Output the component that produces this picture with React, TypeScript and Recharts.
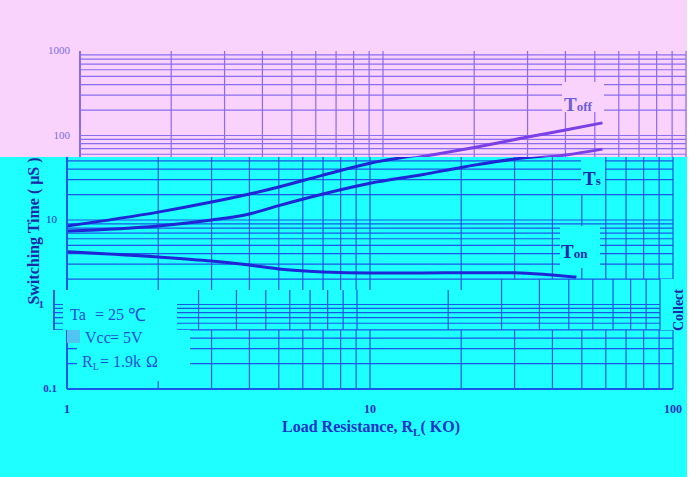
import React from "react";
import { LineChart, Line, XAxis, YAxis, CartesianGrid } from "recharts";

// ---- data ----
const rlToff = [1, 2, 3, 4, 5, 7, 10, 15, 20, 30, 40, 53];
const toffValues = [8.5, 12.4, 16.3, 20.3, 24.6, 34, 47, 60, 72, 96, 116, 141];
const rlTs = [1, 2, 3, 4, 5, 7, 10, 15, 20, 30, 40, 53];
const tsValues = [7.4, 8.5, 10, 11.8, 14.8, 20.3, 27.2, 34.6, 41.9, 52.7, 58.8, 69];
const rlTon = [1, 2, 3, 4, 5, 7, 10, 15, 20, 30, 40, 48];
const tonValues = [4.2, 3.65, 3.27, 2.93, 2.63, 2.43, 2.36, 2.36, 2.38, 2.38, 2.23, 2.11];

const xLabelTicks = [1, 10, 100];
const yLabelTicks = [0.1, 1, 10, 100, 1000];
const mantissas = [1, 2, 3, 4, 5, 6, 7, 8, 9];

const xDecades = [1, 10];
const yDecades = [0.1, 1, 10, 100];

const round = (v: number) => Math.round(v * 1000) / 1000;
const xGrid = [...xDecades.flatMap((d) => mantissas.map((m) => round(d * m))), 100];
const yGrid = yDecades.flatMap((d) => mantissas.map((m) => round(d * m)));
const yTicksAll = [...yGrid, 1000];

const toffData = rlToff.map((x, i) => ({ x, y: toffValues[i] }));
const tsData = rlTs.map((x, i) => ({ x, y: tsValues[i] }));
const tonData = rlTon.map((x, i) => ({ x, y: tonValues[i] }));

// ---- style ----
const PINK = "#f9d3fb";
const CYAN = "#1effff";
const SERIF = '"Liberation Serif", "Times New Roman", serif';

type Strip = {
  x0: number; x1: number; y0: number; y1: number; dx: number;
  bg: string; grid: string; curve: string; text: string;
};

const pinkStyle = { bg: PINK, grid: "#8a6cf0", curve: "#7b3fe6", text: "#7a6ee0" };
const cyanStyle = { bg: CYAN, grid: "#1c56e4", curve: "#1e26d6", text: "#1a30c0" };

const STRIPS: Strip[] = [
  { x0: 0, x1: 687, y0: 0, y1: 157, dx: 13, ...pinkStyle },
  { x0: 0, x1: 478, y0: 157, y1: 290, dx: 0, ...cyanStyle },
  { x0: 478, x1: 687, y0: 157, y1: 279, dx: 0, ...cyanStyle },
  { x0: 0, x1: 478, y0: 290, y1: 330, dx: -13, ...cyanStyle },
  { x0: 478, x1: 687, y0: 279, y1: 330, dx: -13, ...cyanStyle },
  { x0: 0, x1: 687, y0: 330, y1: 477, dx: 0, ...cyanStyle },
];

const inStrip = (s: Strip, px: number, py: number) =>
  px + s.dx >= s.x0 && px + s.dx < s.x1 && py >= s.y0 && py < s.y1;

function ChartInstance({ s }: { s: Strip }) {
  const yTick = (props: any) => {
    const { y, payload } = props;
    const v = payload.value;
    if (!yLabelTicks.includes(v) || !inStrip(s, 50, y)) return <g />;
    return (
      <text x={57} y={y - 1} textAnchor="end" dominantBaseline="central"
        fontFamily={SERIF} fontSize={11} fontWeight={v <= 1 ? "bold" : "normal"} fill={s.text}>
        {String(v)}
      </text>
    );
  };
  const xTick = (props: any) => {
    const { x, payload } = props;
    const v = payload.value;
    if (!xLabelTicks.includes(v) || !inStrip(s, x, 409)) return <g />;
    return (
      <text x={x} y={409} textAnchor="middle" dominantBaseline="central"
        fontFamily={SERIF} fontSize={12} fontWeight="bold" fill={s.text}>
        {String(v)}
      </text>
    );
  };
  return (
    <LineChart width={696} height={477} margin={{ top: 51, right: 23, bottom: 58, left: 7 }}>
      <CartesianGrid stroke={s.grid} strokeWidth={1.2}
        horizontalValues={yGrid} verticalValues={xGrid} />
      <XAxis type="number" dataKey="x" scale="log" domain={[1, 100]} ticks={xGrid}
        interval={0} allowDataOverflow height={30} tickLine={false}
        axisLine={{ stroke: s.grid, strokeWidth: 2 }} tick={xTick} />
      <YAxis type="number" scale="log" domain={[0.1, 1000]} ticks={yTicksAll}
        interval={0} allowDataOverflow width={60} tickLine={false}
        axisLine={{ stroke: s.grid, strokeWidth: 2 }} tick={yTick} />
      <Line data={toffData} dataKey="y" type="monotone" stroke={s.curve} strokeWidth={3}
        dot={false} isAnimationActive={false} />
      <Line data={tsData} dataKey="y" type="monotone" stroke={s.curve} strokeWidth={3}
        dot={false} isAnimationActive={false} />
      <Line data={tonData} dataKey="y" type="monotone" stroke={s.curve} strokeWidth={3}
        dot={false} isAnimationActive={false} />
    </LineChart>
  );
}

export default function App() {
  const dark = "#1a2aa8";
  const annot = "#1f4fd6";
  return (
    <div style={{ position: "absolute", left: 0, top: 0, width: 696, height: 477, background: "#ffffff", overflow: "hidden" }}>
      {STRIPS.map((s, i) => (
        <div key={i} style={{ position: "absolute", left: s.x0, top: s.y0, width: s.x1 - s.x0, height: s.y1 - s.y0, overflow: "hidden", background: s.bg }}>
          <div style={{ position: "absolute", left: s.dx - s.x0, top: -s.y0 }}>
            <ChartInstance s={s} />
          </div>
        </div>
      ))}
      <svg width={687} height={477} style={{ position: "absolute", left: 0, top: 0, pointerEvents: "none" }}>
        {/* condition box */}
        <rect x={63} y={290} width={114} height={40} fill={CYAN} />
        <rect x={77} y={330} width={113} height={51} fill={CYAN} />
        <rect x={67} y={330} width={13} height={13} fill="#52c4f2" />
        <g fontFamily={SERIF} fontSize={16} fill={annot}>
          <text x={70} y={320}>Ta</text>
          <text x={95} y={320}>=</text>
          <text x={108} y={320}>25</text>
          <text x={128} y={321} fontSize={18}>℃</text>
          <text x={85} y={343}>Vcc</text>
          <text x={110} y={343}>=</text>
          <text x={123} y={343}>5V</text>
          <text x={82} y={367}>R<tspan fontSize={10} dy={3}>L</tspan></text>
          <text x={100} y={367}>=</text>
          <text x={113} y={367}>1.9k</text>
          <text x={146} y={367}>Ω</text>
        </g>
        {/* curve labels */}
        <rect x={562} y={82} width={42} height={30} fill={PINK} />
        <text x={564} y={111} fontFamily={SERIF} fontWeight="bold" fill="#6c5cd8">
          <tspan fontSize={19}>T</tspan><tspan fontSize={13}>off</tspan>
        </text>
        <rect x={581} y={157} width={24} height={37} fill={CYAN} />
        <text x={583} y={185} fontFamily={SERIF} fontWeight="bold" fill={dark}>
          <tspan fontSize={19}>T</tspan><tspan fontSize={13}>s</tspan>
        </text>
        <rect x={560} y={226} width={40} height={42} fill={CYAN} />
        <text x={561} y={258} fontFamily={SERIF} fontWeight="bold" fill={dark}>
          <tspan fontSize={19}>T</tspan><tspan fontSize={13}>on</tspan>
        </text>
        {/* axis titles */}
        <text transform="translate(39,231) rotate(-90)" textAnchor="middle"
          fontFamily={SERIF} fontSize={16} fontWeight="bold" fill={dark}>
          Switching Time ( μS )
        </text>
        <text x={371} y={432} textAnchor="middle" fontFamily={SERIF} fontSize={16} fontWeight="bold" fill="#1e32c8">
          Load Resistance, R<tspan fontSize={11} dy={4}>L</tspan><tspan dy={-4}>( KO)</tspan>
        </text>
        <text transform="translate(683,331) rotate(-90)" fontFamily={SERIF} fontSize={14} fontWeight="bold" fill={dark}>
          Collect
        </text>
      </svg>
    </div>
  );
}
